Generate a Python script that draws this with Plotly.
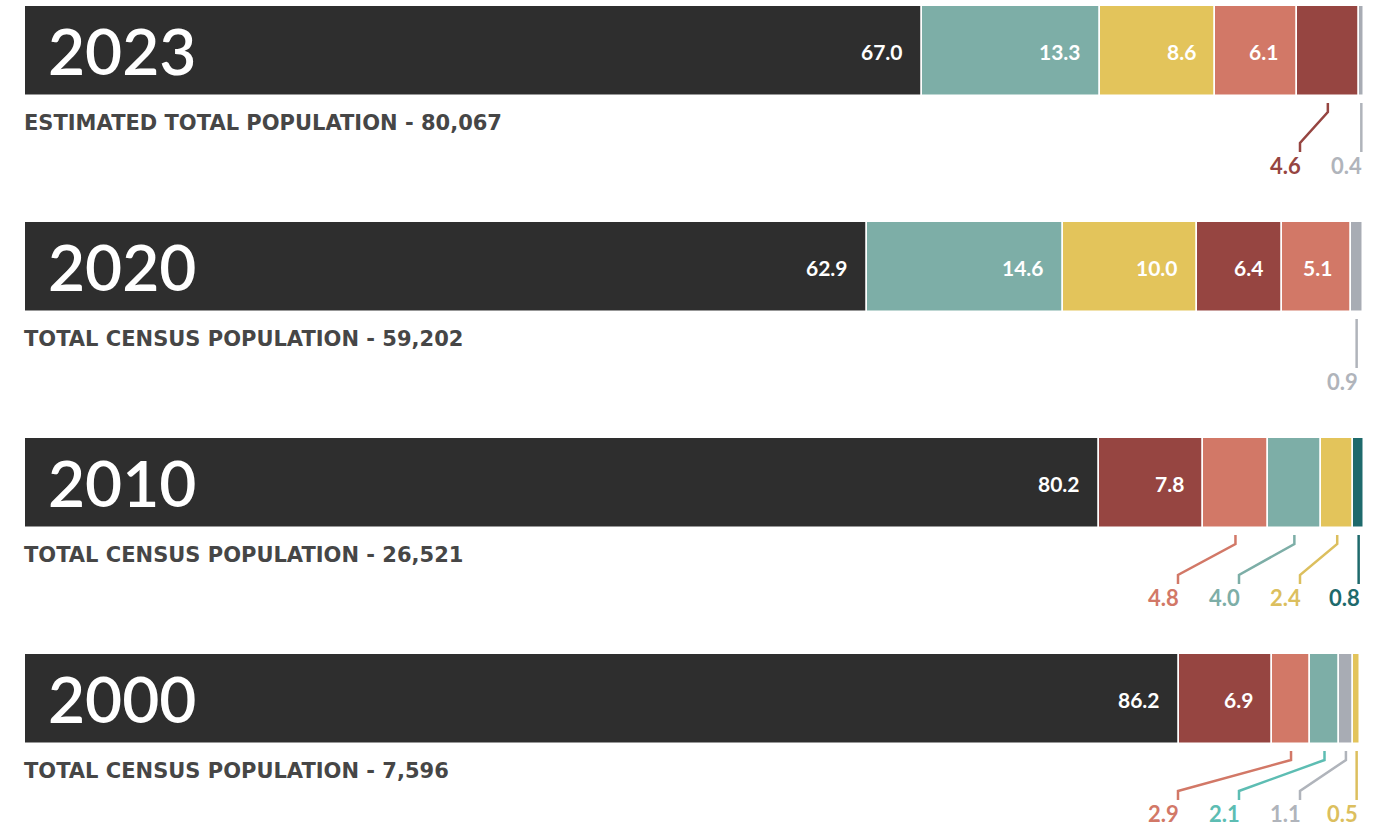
import plotly.graph_objects as go

# ---------------- data ----------------
years = ["2023", "2020", "2010", "2000"]
subtitles = [
    "ESTIMATED TOTAL POPULATION - 80,067",
    "TOTAL CENSUS POPULATION - 59,202",
    "TOTAL CENSUS POPULATION - 26,521",
    "TOTAL CENSUS POPULATION - 7,596",
]
values_2023 = [67.0, 13.3, 8.6, 6.1, 4.6, 0.4]
groups_2023 = ["charcoal", "teal", "gold", "salmon", "brick", "grey"]
values_2020 = [62.9, 14.6, 10.0, 6.4, 5.1, 0.9]
groups_2020 = ["charcoal", "teal", "gold", "brick", "salmon", "grey"]
values_2010 = [80.2, 7.8, 4.8, 4.0, 2.4, 0.8]
groups_2010 = ["charcoal", "brick", "salmon", "teal", "gold", "deepteal"]
values_2000 = [86.2, 6.9, 2.9, 2.1, 1.1, 0.5]
groups_2000 = ["charcoal", "brick", "salmon", "teal", "grey", "gold"]

all_values = [values_2023, values_2020, values_2010, values_2000]
all_groups = [groups_2023, groups_2020, groups_2010, groups_2000]

colors = {
    "charcoal": "#2e2e2e",
    "teal": "#7daea7",
    "gold": "#e3c45b",
    "salmon": "#d27867",
    "brick": "#964541",
    "grey": "#a8acb4",
    "deepteal": "#1e6a6c",
}
label_colors = dict(colors)
label_colors["grey"] = "#b0b4bb"
label_colors["gold"] = "#dcbf5e"
# callout colours that differ in a given year
label_overrides = {"2000": {"teal": "#5dbdb3"}}

# ---------------- layout helpers ----------------
W, H = 1389, 826
LEFT = 25          # px where the bars start
SCALE = 13.39      # px per percentage point
BAR_H = 90
ROW0 = 51          # centre of first bar (px)
ROW_STEP = 216
INSIDE_MIN = 5.0
SLOT_PX = [1361, 1300, 1239, 1178]  # callout columns, from the right

def px2x(p):
    return (p - LEFT) / SCALE

fig = go.Figure()
annotations = []
FONT = "Lato"

for i, (year, sub, vals, grps) in enumerate(zip(years, subtitles, all_values, all_groups)):
    yc = ROW0 + ROW_STEP * i
    bottom = yc + BAR_H / 2
    cum = 0.0
    outside = []
    lc = dict(label_colors)
    lc.update(label_overrides.get(year, {}))
    for v, g in zip(vals, grps):
        fig.add_trace(go.Bar(
            orientation="h", x=[v], base=[cum], y=[yc], width=[BAR_H],
            marker=dict(color=colors[g], line=dict(color="white", width=1.5)),
            hoverinfo="skip", showlegend=False,
        ))
        if v >= INSIDE_MIN:
            annotations.append(dict(
                x=cum + v, y=yc, xref="x", yref="y", text=f"{v:.1f}",
                xanchor="right", yanchor="middle", xshift=-17, showarrow=False,
                font=dict(family=FONT, size=21, color="white", weight="bold"),
            ))
        else:
            outside.append((cum + v / 2, v, g))
        cum += v

    # callouts, assigned to columns from the right
    for k, (cx, v, g) in enumerate(reversed(outside)):
        sx = px2x(SLOT_PX[k])
        if k == 0:
            sx = cx
        fig.add_trace(go.Scatter(
            x=[cx, cx, sx, sx],
            y=[bottom + 7, bottom + 16, bottom + 47, bottom + 56],
            mode="lines", line=dict(color=lc[g], width=2.5),
            hoverinfo="skip", showlegend=False,
        ))
        annotations.append(dict(
            x=sx, y=bottom + 69, xref="x", yref="y", text=f"{v:.1f}",
            xanchor="right", yanchor="middle", xshift=3, showarrow=False,
            font=dict(family=FONT, size=22, color=lc[g], weight="bold"),
        ))

    # year label
    annotations.append(dict(
        x=0, y=yc, xref="x", yref="y", text=year,
        xanchor="left", yanchor="middle", xshift=21, yshift=1, showarrow=False,
        font=dict(family=FONT, size=64, color="white", weight=600),
    ))
    # subtitle
    annotations.append(dict(
        x=0, y=bottom + 27, xref="x", yref="y", text=sub,
        xanchor="left", yanchor="middle", xshift=-3, showarrow=False,
        font=dict(family="DejaVu Sans", size=21, color="#464646", weight="bold"),
    ))

fig.update_layout(
    width=W, height=H, margin=dict(l=0, r=0, t=0, b=0),
    plot_bgcolor="white", paper_bgcolor="white",
    barmode="overlay", bargap=0,
    xaxis=dict(range=[px2x(0), px2x(W)], visible=False, fixedrange=True),
    yaxis=dict(range=[H, 0], visible=False, fixedrange=True),
    annotations=annotations,
)

fig.write_html("out.html", config={"displayModeBar": False},
               post_script="document.body.style.margin='0';")
